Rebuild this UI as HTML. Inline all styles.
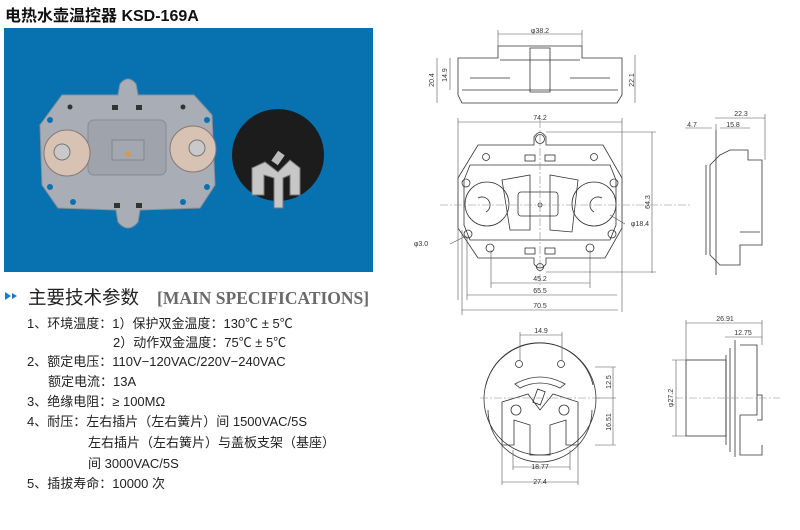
<!DOCTYPE html>
<html><head><meta charset="utf-8"><style>
body{margin:0;width:800px;height:530px;background:#fff;overflow:hidden;position:relative;font-family:"Liberation Sans","Noto Sans CJK SC",sans-serif}
.t{position:absolute;white-space:nowrap;color:#222}
</style></head><body>
<div class="t" style="left:5px;top:2px;font-size:16px;font-weight:bold;color:#111">电热水壶温控器 KSD-169A</div>
<svg width="800" height="530" style="position:absolute;left:0;top:0" font-family="Liberation Sans, sans-serif">
<rect x="4" y="28" width="369" height="244" fill="#0872b0"/>
<!-- plate photo -->
<path d="M62,95 L118,95 L120,84 Q128,74 136,84 L138,95 L194,95 L212,115 L215,185 L200,208 L140,210 L138,222 Q128,234 118,222 L116,210 L58,208 L42,185 L40,125 Z" fill="#a9adb6" stroke="#8b9099"/>
<rect x="88" y="120" width="78" height="55" rx="6" fill="#9ea3ac" stroke="#868b94"/>
<rect x="112" y="140" width="32" height="20" fill="#a2a7b0" stroke="#80858e"/>
<circle cx="128" cy="154" r="3" fill="#d49a55"/>
<circle cx="67" cy="153" r="23" fill="#d8c2b4" stroke="#8a7870"/>
<circle cx="62" cy="152" r="8" fill="#c9c9c9" stroke="#777"/>
<circle cx="193" cy="149" r="23" fill="#d8c2b4" stroke="#8a7870"/>
<circle cx="197" cy="148" r="8" fill="#c9c9c9" stroke="#777"/>
<circle cx="70" cy="107" r="2.5" fill="#333"/><circle cx="183" cy="107" r="2.5" fill="#333"/>
<circle cx="50" cy="120" r="3" fill="#0872b0"/><circle cx="207" cy="120" r="3" fill="#0872b0"/>
<circle cx="50" cy="187" r="3" fill="#0872b0"/><circle cx="207" cy="187" r="3" fill="#0872b0"/>
<circle cx="73" cy="202" r="3" fill="#0872b0"/><circle cx="183" cy="202" r="3" fill="#0872b0"/>
<rect x="112" y="105" width="6" height="5" fill="#333"/><rect x="136" y="105" width="6" height="5" fill="#333"/>
<rect x="114" y="203" width="6" height="5" fill="#333"/><rect x="136" y="203" width="6" height="5" fill="#333"/>
<!-- round part photo -->
<circle cx="278" cy="155" r="46" fill="#1c1c1c"/>
<path d="M252,168 L265,162 L278,172 L290,160 L300,168 L300,195 L290,195 L290,175 L283,178 L283,208 L274,208 L274,178 L264,175 L264,195 L252,195 Z" fill="#c7c7c7" stroke="#777"/>
<rect x="274" y="152" width="8" height="12" fill="#bbb" transform="rotate(35 278 158)"/>
<!-- heading -->
<path d="M5,292 L11,296 L5,300 Z M12,293 L17,296 L12,299 Z" fill="#1a7bc0"/>
<text x="28" y="304" font-size="18.5" fill="#222" font-family="Liberation Sans, Noto Sans CJK SC, sans-serif">主要技术参数</text>
<text x="157" y="304" font-size="17.5" font-weight="bold" fill="#6a6a6a" font-family="Liberation Serif, serif">[MAIN SPECIFICATIONS]</text>
<g font-size="13" fill="#222" font-family="Liberation Sans, Noto Sans CJK SC, sans-serif">
<text x="27" y="328">1、环境温度：1）保护双金温度：130℃ ± 5℃</text>
<text x="113" y="347">2）动作双金温度：75℃ ± 5℃</text>
<text x="27" y="366">2、额定电压：110V−120VAC/220V−240VAC</text>
<text x="48" y="386">额定电流：13A</text>
<text x="27" y="406">3、绝缘电阻：≥ 100MΩ</text>
<text x="27" y="426">4、耐压：左右插片（左右簧片）间 1500VAC/5S</text>
<text x="88" y="447">左右插片（左右簧片）与盖板支架（基座）</text>
<text x="88" y="468">间 3000VAC/5S</text>
<text x="27" y="488">5、插拔寿命：10000 次</text>
</g>
<g fill="none" stroke="#333" stroke-width="0.8">
<path d="M498,46 L582,46 L582,58 L622,58 L622,95 L617,103 L462,103 L458,95 L458,58 L498,58 Z"/>
<path d="M462,90 L618,90 M500,60 L580,60 M530,48 L550,48 L550,92 L530,92 Z M470,78 L510,78 M570,78 L610,78"/>
<path d="M478,145 L534,145 L534,137 Q540,128 546,137 L546,145 L603,145 L622,178 L622,228 L605,258 L546,258 L546,264 Q540,272 534,264 L534,258 L478,258 L458,228 L458,178 Z"/>
<circle cx="540" cy="139" r="4.5"/><circle cx="540" cy="267" r="3.5"/>
<path d="M464,180 L470,165 L610,165 L616,180 L616,225 L610,240 L470,240 L464,225 Z"/>
<circle cx="487" cy="204" r="22"/><circle cx="594" cy="204" r="22"/>
<path d="M478,198 a8,8 0 1,1 8,14 M602,198 a8,8 0 1,0 -8,14"/>
<rect x="518" y="192" width="40" height="24" rx="3"/>
<path d="M502,180 L530,175 L530,230 L510,230 Z M578,180 L550,175 L550,230 L572,232 Z"/>
<circle cx="540" cy="205" r="2"/>
<circle cx="486" cy="157" r="3.5"/><circle cx="594" cy="157" r="3.5"/>
<circle cx="466" cy="183" r="4"/><circle cx="614" cy="183" r="4"/>
<circle cx="468" cy="234" r="4"/><circle cx="612" cy="234" r="4"/>
<circle cx="490" cy="248" r="4"/><circle cx="590" cy="248" r="4"/>
<rect x="525" y="155" width="10" height="6"/><rect x="545" y="155" width="10" height="6"/>
<rect x="525" y="248" width="10" height="6"/><rect x="545" y="248" width="10" height="6"/>
<path d="M716,130 L716,275 M720,155 L730,150 L748,150 L748,160 L762,160 L762,245 L740,245 L740,265 L720,265 L710,255 L710,165 Z M706,165 L706,255 M740,232 L760,232"/>
<circle cx="540" cy="399" r="56"/>
<path d="M486,385 A55,55 0 0,1 593,385 M488,410 A52,52 0 0,0 592,410"/>
<path d="M515,384 Q540,370 565,384 L560,388 Q540,378 520,388 Z"/>
<circle cx="519" cy="364" r="3.5"/><circle cx="561" cy="364" r="3.5"/>
<path d="M502,402 L528,394 L540,410 L553,394 L578,402 L578,445 L566,445 L566,420 L550,425 L550,455 L530,455 L530,425 L514,420 L514,445 L502,445 Z"/>
<circle cx="516" cy="410" r="5"/><circle cx="564" cy="410" r="5"/>
<rect x="535" y="390" width="8" height="14" transform="rotate(20 539 397)"/>
<rect x="686" y="360" width="40" height="76"/>
<path d="M726,355 L726,445 M730,348 L730,452 M735,340 L735,457 M740,345 L757,345 L757,415 L740,415 M740,415 L740,455 L762,455 L762,445 M757,395 L762,395 L762,420 L757,420"/>
</g>
<g stroke="#555" stroke-width="0.6" fill="none">
<path d="M498,34 L582,34 M498,30 L498,46 M582,30 L582,46"/>
<path d="M437,58 L437,103 M450,58 L450,90 M635,55 L635,103"/>
<path d="M458,122 L622,122 M458,118 L458,300 M622,118 L622,312"/>
<path d="M652,132 L652,273 M546,132 L656,132 M546,272 L656,272"/>
<path d="M491,283 L590,283 M467,295 L617,295 M462,310 L618,310 M491,250 L491,288 M590,250 L590,288 M467,236 L467,300 M462,230 L462,315"/>
<path d="M715,118 L765,118 M685,128 L712,128 M720,128 L750,128 M765,114 L765,160 M716,124 L716,132"/>
<path d="M520,335 L562,335 M520,332 L520,360 M562,332 L562,360"/>
<path d="M613,367 L613,445 M595,367 L616,367 M595,398 L616,398 M595,445 L616,445"/>
<path d="M513,467 L570,467 M502,482 L578,482 M513,450 L513,470 M570,450 L570,470 M502,445 L502,485 M578,445 L578,485"/>
<path d="M686,323 L762,323 M725,337 L762,337 M686,320 L686,360 M762,320 L762,345"/>
<path d="M676,360 L676,436 M672,360 L686,360 M672,436 L686,436"/>
<path d="M440,205 L690,205 M540,120 L540,285 M675,398 L780,398 M480,398 L600,398" stroke-dasharray="8,2,2,2" stroke="#888"/>
<path d="M610,215 L625,224 M466,236 L450,244"/>
</g>
<g font-size="7" fill="#333" text-anchor="middle">
<text x="540" y="33">φ38.2</text>
<text x="540" y="120">74.2</text>
<text x="540" y="281">45.2</text>
<text x="540" y="293">65.5</text>
<text x="540" y="308">70.5</text>
<text x="741" y="116">22.3</text>
<text x="692" y="127">4.7</text>
<text x="733" y="127">15.8</text>
<text x="541" y="333">14.9</text>
<text x="540" y="469">18.77</text>
<text x="540" y="484">27.4</text>
<text x="725" y="321">26.91</text>
<text x="743" y="335">12.75</text>
<text x="640" y="226">φ18.4</text>
<text x="421" y="246">φ3.0</text>
<text transform="translate(434,80) rotate(-90)">20.4</text>
<text transform="translate(447,75) rotate(-90)">14.9</text>
<text transform="translate(634,80) rotate(-90)">22.1</text>
<text transform="translate(650,202) rotate(-90)">64.3</text>
<text transform="translate(611,382) rotate(-90)">12.5</text>
<text transform="translate(611,422) rotate(-90)">16.51</text>
<text transform="translate(673,398) rotate(-90)">φ27.2</text>
</g>
</svg>
</body></html>
